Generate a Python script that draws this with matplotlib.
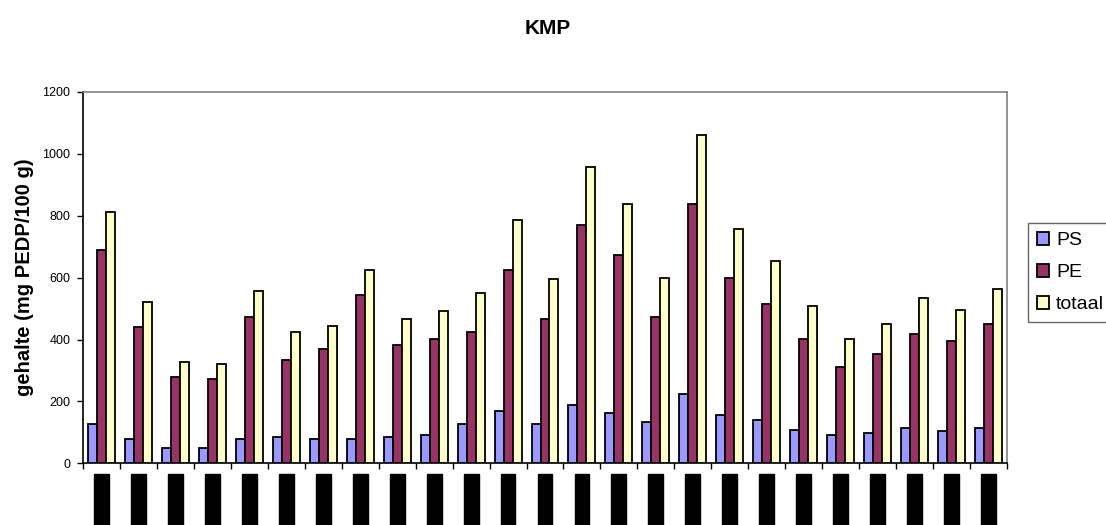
import matplotlib
matplotlib.use("Agg")
import matplotlib.pyplot as plt
import numpy as np

plt.rcParams['font.family'] = ['Liberation Sans', 'DejaVu Sans']

# Sample labels (printed under each group)
samples = [f"monster {i:02d}" for i in range(1, 26)]

# Contents in mg PEDP per 100 g
ps = [128, 78, 48, 48, 78, 85, 78, 78, 85, 90, 128, 169, 128, 187, 164,
      133, 224, 157, 139, 109, 90, 97, 115, 104, 115]
pe = [690, 441, 279, 272, 473, 333, 370, 545, 382, 401, 424, 624, 466, 770,
      673, 473, 837, 600, 515, 401, 310, 352, 419, 394, 449]
totaal = [812, 521, 327, 321, 558, 423, 443, 625, 466, 491, 551, 787, 595,
          958, 837, 600, 1062, 758, 655, 508, 401, 449, 533, 497, 563]

series = [("PS", ps, "#9999FF"), ("PE", pe, "#993366"), ("totaal", totaal, "#FFFFCC")]

fig = plt.figure(figsize=(11.06, 5.25), dpi=100)
ax = fig.add_axes([83 / 1106, 1 - 463.3 / 525, 924 / 1106, 371.3 / 525])

x = np.arange(len(samples))
w = 0.243
for k, (name, vals, col) in enumerate(series):
    ax.bar(x + (k - 1) * w, vals, width=w, color=col, edgecolor="black",
           linewidth=1.3, label=name, zorder=3)

ax.set_xlim(-0.5, len(samples) - 0.5)
ax.set_ylim(0, 1200)
ax.set_yticks(range(0, 1201, 200))
ax.tick_params(axis="y", direction="out", length=4, width=1, pad=5,
               labelsize=9, colors="black")

# group boundary ticks, labels centred on each group
ax.set_xticks(np.arange(-0.5, len(samples), 1.0))
ax.tick_params(axis="x", which="major", direction="out", length=4, width=1,
               labelbottom=False)
ax.set_xticks(x, minor=True)
ax.set_xticklabels(samples, minor=True, rotation=90, fontsize=8,
                   color="black", va="top")
ax.tick_params(axis="x", which="minor", length=0, pad=9.5)
for lbl in ax.get_xticklabels(minor=True):
    lbl.set_bbox(dict(boxstyle="square,pad=0.22", facecolor="black",
                      edgecolor="black"))

for side in ("top", "right"):
    ax.spines[side].set_color("#808080")
    ax.spines[side].set_linewidth(1.2)
for side in ("left", "bottom"):
    ax.spines[side].set_color("black")
    ax.spines[side].set_linewidth(1.2)

ax.set_ylabel("gehalte (mg PEDP/100 g)", fontsize=14.5, fontweight="bold")
ax.yaxis.set_label_coords(-0.053, 0.5)

fig.text(548 / 1106, 1 - 29 / 525, "KMP", fontsize=15, fontweight="bold",
         ha="center", va="center")

leg = fig.legend(loc="upper left", bbox_to_anchor=(1028 / 1106, 1 - 223 / 525),
                 frameon=True, fancybox=False, fontsize=14,
                 handlelength=0.65, handleheight=0.65, handletextpad=0.35,
                 labelspacing=0.75, borderpad=0.45, borderaxespad=0)
leg.get_frame().set_edgecolor("#404040")
leg.get_frame().set_linewidth(1.0)

fig.savefig("out.png", dpi=100)
